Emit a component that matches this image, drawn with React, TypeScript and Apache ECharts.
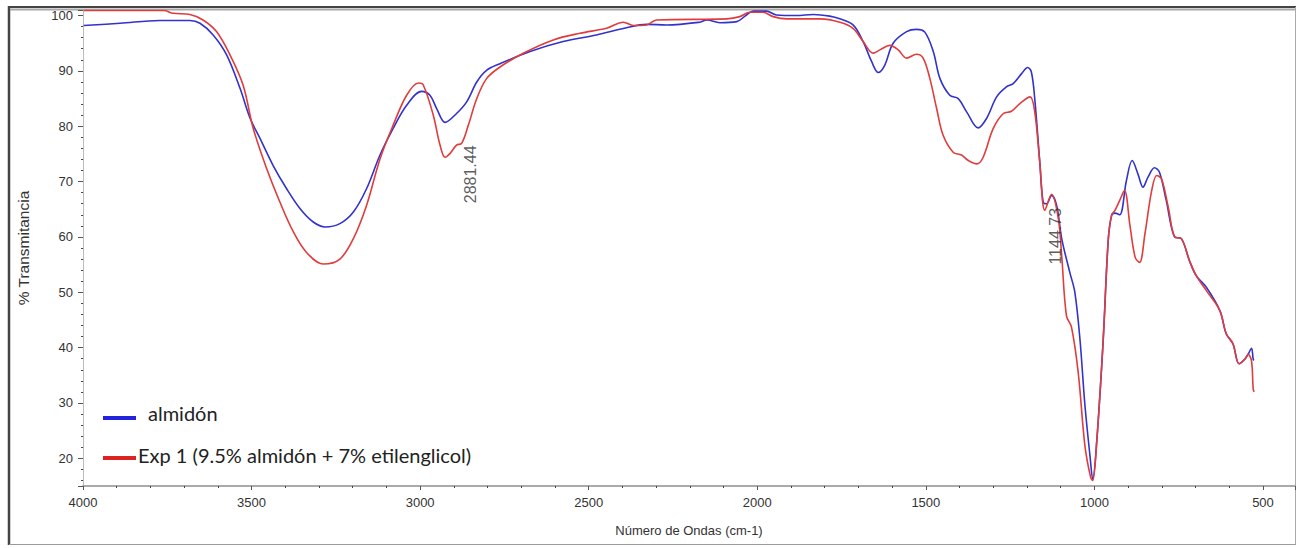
import { useEffect, useRef } from "react";
import * as echarts from "echarts";

// Wavenumbers (cm-1) and % transmittance
const blueWn = [
  3998, 3890, 3772, 3683, 3653, 3614, 3574, 3534, 3504, 3475, 3436, 3396, 3356, 3317, 3282, 3238,
  3198, 3159, 3119, 3080, 3040, 2996, 2971, 2951, 2926, 2892, 2862, 2832, 2803, 2763, 2674, 2576,
  2477, 2388, 2328, 2269, 2170, 2150, 2111, 2061, 2032, 2012, 1973, 1943, 1884, 1834, 1785, 1755,
  1716, 1686, 1661, 1641, 1622, 1597, 1557, 1528, 1503, 1478, 1458, 1429, 1404, 1379, 1345, 1320,
  1290, 1261, 1241, 1216, 1198, 1187, 1177, 1162, 1152, 1142, 1127, 1112, 1097, 1073, 1058, 1043,
  1028, 1013, 1005, 993, 974, 959, 949, 939, 925, 905, 888, 871, 856, 841, 822, 807, 787, 762, 742,
  718, 698, 668, 628, 609, 589, 571, 554, 544, 534, 529, 527,
];
const blueT = [
  98.2, 98.6, 99.1, 99.1, 98.6, 96.5, 92.9, 86.8, 81.4, 77.8, 72.9, 68.7, 65.1, 62.7, 61.8, 62.4,
  64.5, 68.7, 74.8, 79.6, 83.8, 86.3, 85.6, 83.2, 80.7, 82.3, 84.4, 88.0, 90.1, 91.3, 93.5, 95.3,
  96.5, 97.8, 98.4, 98.3, 98.8, 99.2, 98.7, 98.9, 100.1, 100.8, 100.8, 100.1, 100.0, 100.2, 99.9, 99.4,
  98.3, 95.3, 91.7, 89.7, 91.0, 95.0, 97.1, 97.5, 97.0, 93.5, 88.6, 85.6, 85.0, 82.6, 79.7, 81.4,
  85.3, 87.1, 87.7, 89.5, 90.6, 89.8, 85.0, 73.5, 66.3, 66.0, 67.5, 65.7, 59.7, 53.6, 50.0, 41.6,
  29.5, 20.4, 16.2, 23.1, 41.3, 59.4, 63.9, 64.3, 64.0, 70.2, 73.8, 71.4, 69.0, 70.8, 72.5, 71.7, 66.6, 60.0, 59.7,
  55.7, 53.0, 50.9, 46.7, 42.5, 40.7, 37.1, 37.9, 38.8, 39.9, 37.9, 37.7,
];

const redWn = [
  3998, 3760, 3733, 3683, 3644, 3604, 3564, 3525, 3495, 3455, 3416, 3376, 3337, 3287, 3238, 3198,
  3159, 3119, 3080, 3040, 3005, 2991, 2961, 2941, 2926, 2911, 2892, 2877, 2857, 2832, 2803, 2763,
  2694, 2605, 2526, 2447, 2397, 2368, 2328, 2299, 2091, 2052, 2022, 1983, 1953, 1913, 1814, 1755,
  1716, 1686, 1656, 1636, 1607, 1582, 1557, 1528, 1508, 1488, 1468, 1449, 1419, 1394, 1374, 1349,
  1330, 1300, 1270, 1246, 1221, 1191, 1177, 1162, 1147, 1127, 1107, 1097, 1083, 1068, 1048, 1028,
  1011, 1005, 993, 974, 959, 949, 939, 925, 911, 894, 879, 866, 850, 830, 815, 801, 781, 762, 742,
  718, 698, 668, 628, 609, 589, 571, 554, 544, 534, 529, 526,
];
const redT = [
  100.9, 100.9, 100.4, 100.2, 99.2, 97.1, 92.9, 87.4, 79.6, 72.3, 66.3, 60.9, 57.2, 55.1, 56.0, 59.7,
  65.7, 74.1, 80.2, 85.6, 87.8, 87.5, 82.0, 76.6, 74.4, 75.1, 76.6, 76.9, 80.2, 85.0, 88.6, 90.7,
  93.2, 95.6, 96.8, 97.7, 98.8, 98.2, 98.3, 99.2, 99.4, 99.8, 100.6, 100.6, 99.8, 99.4, 99.4, 98.8,
  97.7, 95.3, 93.2, 93.8, 94.6, 93.8, 92.3, 93.0, 92.3, 88.6, 83.2, 78.4, 75.3, 74.8, 73.8, 73.2,
  74.4, 79.6, 82.3, 82.7, 84.1, 85.3, 82.6, 73.5, 64.8, 67.7, 63.3, 56.6, 45.8, 43.7, 35.5, 22.2,
  16.5, 16.0, 23.1, 41.3, 59.4, 63.9, 64.8, 66.6, 68.4, 61.8, 56.3, 55.4, 60.6, 68.4, 71.1, 70.5, 65.4, 60.0, 59.7,
  55.7, 53.0, 50.3, 46.7, 42.5, 40.7, 37.1, 37.9, 38.8, 37.6, 32.5, 32.0,
];

const peakLabels = ["2881.44", "1144.73"];
const peakWn = [2881.44, 1144.73];
const peakT = [76.9, 65.6];

const seriesNames = ["almidón", "Exp 1 (9.5% almidón + 7% etilenglicol)"];
const xTitle = "Número de Ondas (cm-1)";
const yTitle = "% Transmitancia";

export default function App() {
  const ref = useRef<HTMLDivElement>(null);
  useEffect(() => {
    const chart = echarts.init(ref.current!, null, { renderer: "svg" });
    const sans = "'Liberation Sans', Arial, sans-serif";
    const blue = "#3232cc";
    const red = "#e03c3c";
    chart.setOption({
      animation: false,
      backgroundColor: "#ffffff",
      grid: { left: 83, right: 4, top: 10, bottom: 62, containLabel: false },
      xAxis: {
        type: "value",
        min: 405,
        max: 4000,
        inverse: true,
        splitNumber: 7,
        name: xTitle,
        nameLocation: "middle",
        nameGap: 38,
        nameTextStyle: { fontFamily: sans, fontSize: 13, color: "#333" },
        axisLine: { show: true, onZero: false, lineStyle: { color: "#aaaaaa", width: 2 } },
        axisTick: { show: true, length: 4, lineStyle: { color: "#555" } },
        minorTick: { show: true, splitNumber: 5, length: 2, lineStyle: { color: "#444" } },
        axisLabel: {
          margin: 10,
          fontFamily: sans,
          fontSize: 13,
          color: "#333",
          formatter: (v: number) => (v % 500 === 0 ? String(v) : ""),
        },
        splitLine: { show: false },
      },
      yAxis: {
        type: "value",
        min: 15,
        max: 101,
        splitNumber: 8,
        name: yTitle,
        nameLocation: "middle",
        nameGap: 52,
        nameTextStyle: { fontFamily: sans, fontSize: 15.5, color: "#333" },
        axisLine: { show: true, lineStyle: { color: "#bbbbbb", width: 1 } },
        axisTick: { show: true, length: 5, lineStyle: { color: "#555" } },
        minorTick: { show: true, splitNumber: 5, length: 2, lineStyle: { color: "#444" } },
        axisLabel: {
          margin: 10,
          fontFamily: sans,
          fontSize: 13,
          color: "#333",
          formatter: (v: number) => (v % 10 === 0 && v >= 20 && v <= 100 ? String(v) : ""),
        },
        splitLine: { show: false },
      },
      series: [
        {
          name: seriesNames[0],
          type: "line",
          data: blueWn.map((w, i) => [w, blueT[i]]),
          showSymbol: false,
          symbol: "none",
          smooth: 0.35,
          lineStyle: { color: blue, width: 1.6 },
          z: 2,
        },
        {
          name: seriesNames[1],
          type: "line",
          data: redWn.map((w, i) => [w, redT[i]]),
          showSymbol: false,
          symbol: "none",
          smooth: 0.35,
          lineStyle: { color: red, width: 1.6 },
          z: 3,
        },
        {
          type: "scatter",
          data: peakWn.map((w, i) => ({ value: [w, peakT[i]], name: peakLabels[i] })),
          symbolSize: 2,
          itemStyle: { color: "rgba(0,0,0,0)" },
          silent: true,
          z: 5,
          label: {
            show: true,
            formatter: "{b}",
            rotate: 90,
            position: [3, 3],
            align: "right",
            verticalAlign: "top",
            fontFamily: sans,
            fontSize: 16,
            color: "#333",
          },
        },
      ],
      graphic: [
        { type: "line", silent: true, shape: { x1: 9, y1: 6, x2: 9, y2: 545 }, style: { stroke: "#444", lineWidth: 2.5 } },
        { type: "line", silent: true, shape: { x1: 8, y1: 7, x2: 1296, y2: 7 }, style: { stroke: "#444", lineWidth: 2 } },
        { type: "line", silent: true, shape: { x1: 10, y1: 9.5, x2: 1296, y2: 9.5 }, style: { stroke: "#a8a8a8", lineWidth: 2 } },
        { type: "line", silent: true, shape: { x1: 1295.5, y1: 7, x2: 1295.5, y2: 545 }, style: { stroke: "#aaa", lineWidth: 1 } },
        { type: "line", silent: true, shape: { x1: 9, y1: 544.5, x2: 1296, y2: 544.5 }, style: { stroke: "#999", lineWidth: 1 } },
        { type: "line", silent: true, shape: { x1: 103, y1: 418, x2: 136, y2: 418 }, style: { stroke: "#2323dc", lineWidth: 4 } },
        {
          type: "text",
          silent: true,
          x: 148,
          y: 413,
          style: { text: seriesNames[0], fontFamily: "Lato, 'Open Sans', sans-serif", fontSize: 20, fill: "#222", verticalAlign: "middle" },
        },
        { type: "line", silent: true, shape: { x1: 103, y1: 458, x2: 136, y2: 458 }, style: { stroke: "#dc2323", lineWidth: 4 } },
        {
          type: "text",
          silent: true,
          x: 138,
          y: 455,
          style: { text: seriesNames[1], fontFamily: "Lato, 'Open Sans', sans-serif", fontSize: 20, fill: "#222", verticalAlign: "middle" },
        },
      ],
    });
    return () => chart.dispose();
  }, []);
  return <div ref={ref} style={{ position: "fixed", left: 0, top: 0, width: 1299, height: 548 }} />;
}
